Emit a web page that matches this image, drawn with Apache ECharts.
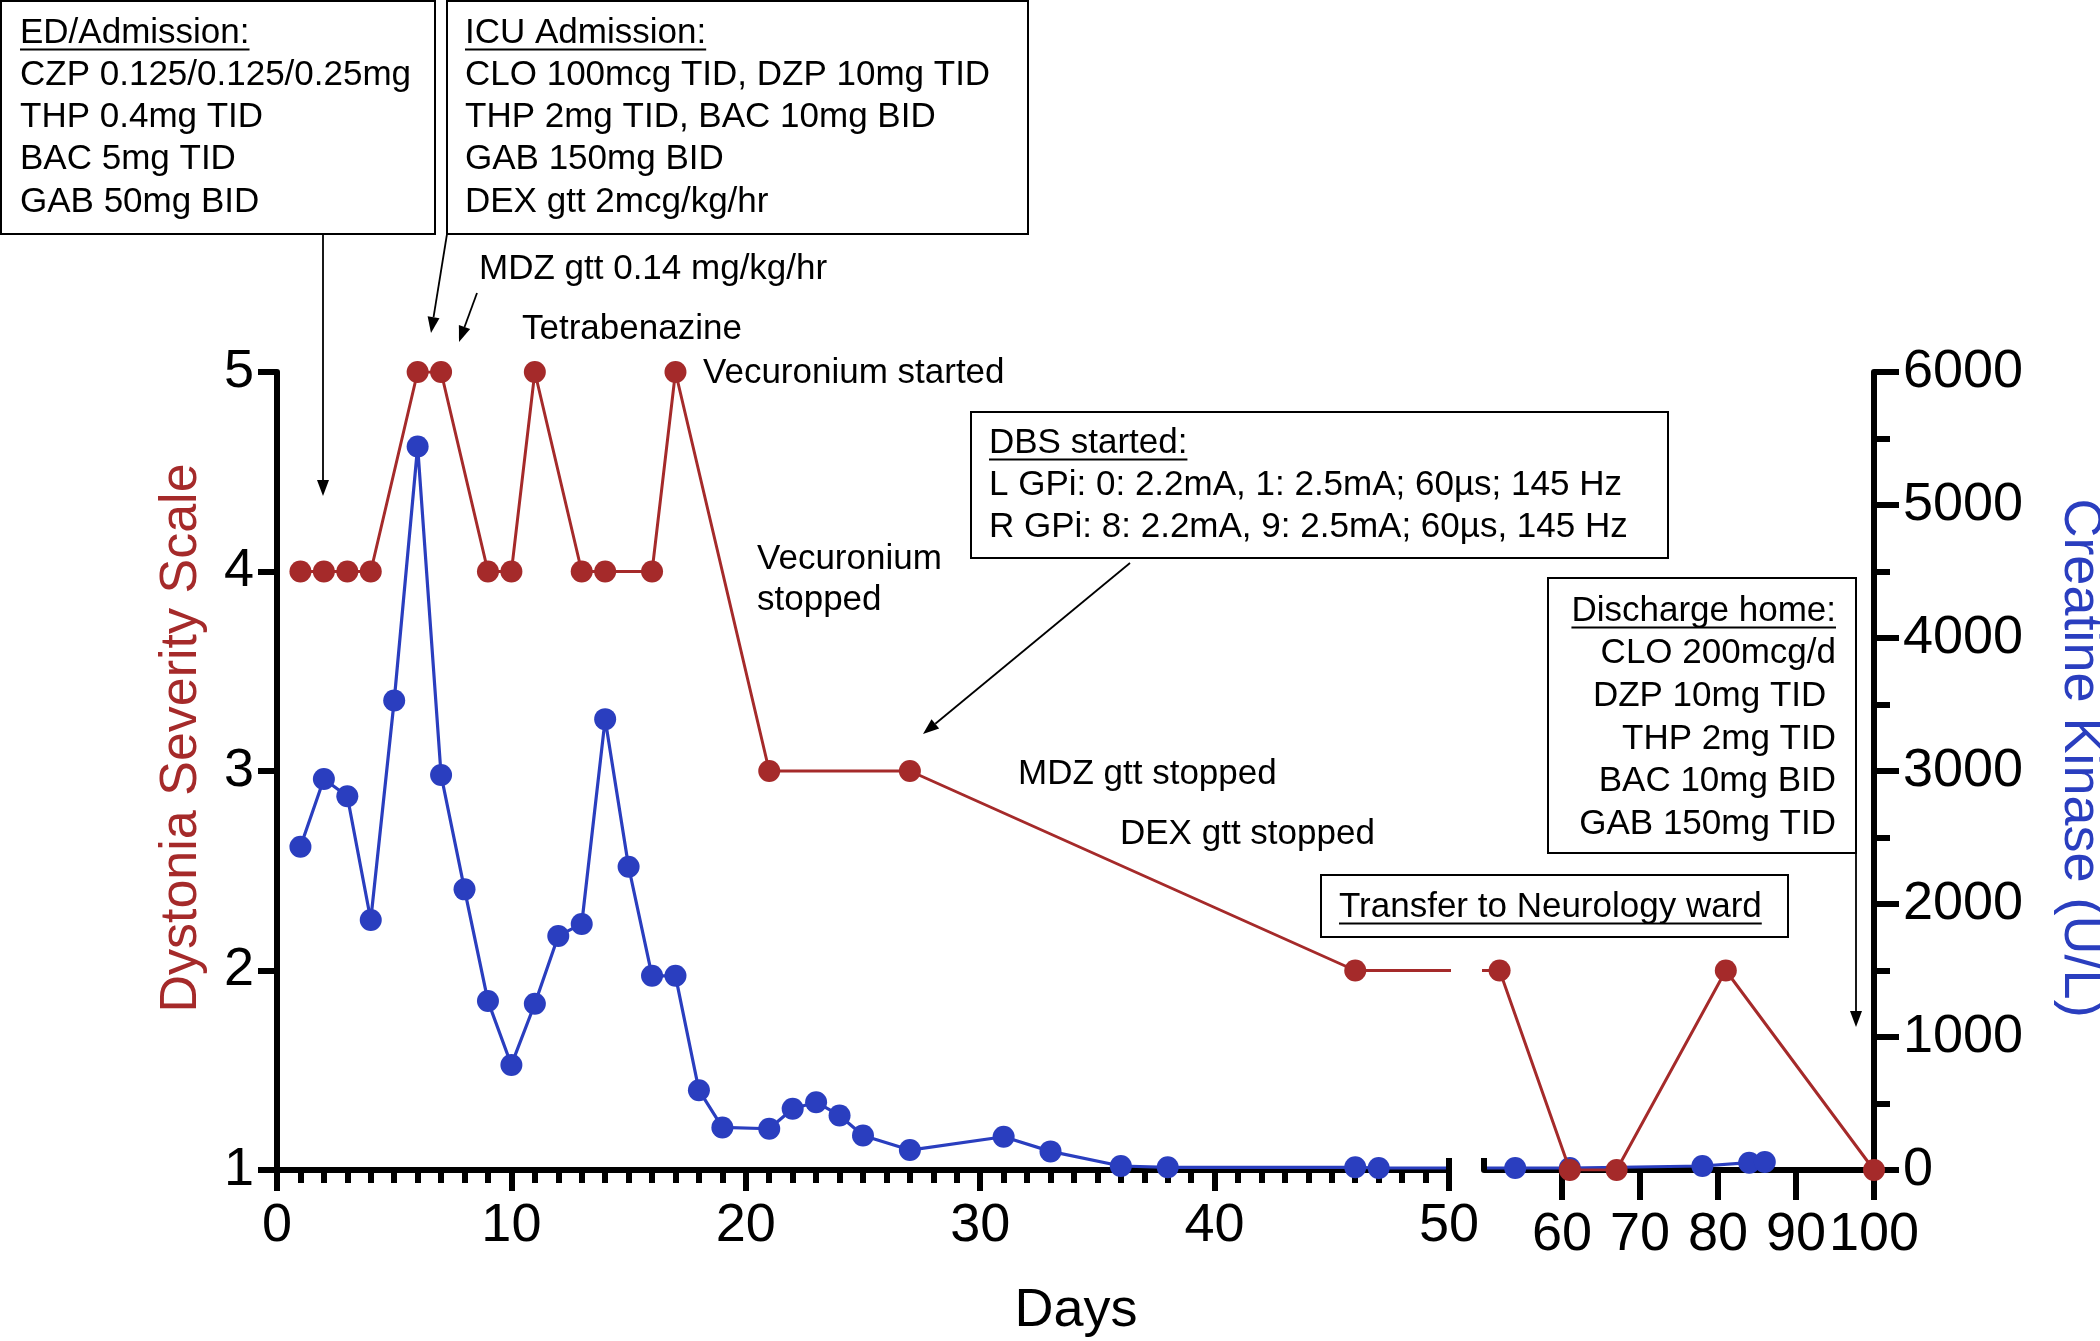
<!DOCTYPE html>
<html><head><meta charset="utf-8">
<script src="https://cdn.jsdelivr.net/npm/echarts@6/dist/echarts.min.js"></script>
<style>html,body{margin:0;padding:0;background:#fff}#c{width:2100px;height:1341px}</style>
</head><body><div id="c"></div>
<script>
// ---------------- data ----------------
const dssDays   = [1, 2, 3, 4, 6, 7, 9, 10, 11, 13, 14, 16, 17, 21, 27, 46, 52, 61, 67, 81, 100];
const dssValues = [4, 4, 4, 4, 5, 5, 4, 4, 5, 4, 4, 4, 5, 3, 3, 2, 2, 1, 1, 2, 1];
const ckDays    = [1, 2, 3, 4, 5, 6, 7, 8, 9, 10, 11, 12, 13, 14, 15, 16, 17, 18, 19, 21, 22, 23, 24, 25, 27, 31, 33, 36, 38, 46, 47, 54, 61, 78, 84, 86];
const ckValues  = [2430, 2940, 2810, 1880, 3530, 5440, 2970, 2110, 1270, 790, 1250, 1760, 1850, 3390, 2280, 1460, 1460, 600, 320, 310, 460, 510, 410, 260, 150, 250, 140, 30, 20, 20, 15, 15, 15, 30, 55, 60];
const xTicksFirst  = [0, 10, 20, 30, 40, 50];
const xTicksSecond = [50, 60, 70, 80, 90, 100];
const dssTicks = [1, 2, 3, 4, 5];
const ckTicks  = [0, 1000, 2000, 3000, 4000, 5000, 6000];

const FONT = "'Liberation Sans', Arial, Helvetica, sans-serif";
const RED = '#a52a2a';
const BLUE = '#2a3ebf';

const dssData = dssDays.map((d, i) => [d, dssValues[i]]);
const ckData = ckDays.map((d, i) => [d, ckValues[i]]);

const chart = echarts.init(document.getElementById('c'), null, {renderer: 'canvas'});

const plain = (v) => String(v);
const tickLabel = {fontSize: 54, color: '#000', fontFamily: FONT, formatter: plain};
const blackLine = (w) => ({color: '#000', width: w});

function xAxisDef(grid, ticks, tickLen, margin, minor) {
  return {
    gridIndex: grid, type: 'value',
    min: ticks[0], max: ticks[ticks.length - 1], interval: ticks[1] - ticks[0],
    axisLine: {show: true, onZero: false, lineStyle: blackLine(6)},
    axisTick: {show: true, inside: false, length: tickLen, lineStyle: blackLine(6)},
    minorTick: {show: minor, splitNumber: 10, length: 13, lineStyle: blackLine(6)},
    axisLabel: Object.assign({}, tickLabel, {margin: margin, showMinLabel: grid === 0, showMaxLabel: true}),
    splitLine: {show: false}, minorSplitLine: {show: false}
  };
}

const option = {
  animation: false,
  backgroundColor: '#fff',
  grid: [
    {left: 277, top: 372, width: 1172, height: 798},
    {left: 1484, top: 372, width: 390, height: 798}
  ],
  xAxis: [
    xAxisDef(0, xTicksFirst, 21, 29, true),
    xAxisDef(1, xTicksSecond, 30, 38, false)
  ],
  yAxis: [
    { gridIndex: 0, type: 'value', position: 'left',
      min: dssTicks[0], max: dssTicks[dssTicks.length - 1], interval: 1,
      axisLine: {show: true, onZero: false, lineStyle: blackLine(6)},
      axisTick: {show: true, inside: false, length: 19, lineStyle: blackLine(6)},
      axisLabel: Object.assign({}, tickLabel, {margin: 23}),
      splitLine: {show: false} },
    { gridIndex: 0, type: 'value', show: false,
      min: ckTicks[0], max: ckTicks[ckTicks.length - 1], splitLine: {show: false} },
    { gridIndex: 1, type: 'value', show: false,
      min: dssTicks[0], max: dssTicks[dssTicks.length - 1], splitLine: {show: false} },
    { gridIndex: 1, type: 'value', position: 'right',
      min: ckTicks[0], max: ckTicks[ckTicks.length - 1], interval: 1000,
      axisLine: {show: true, onZero: false, lineStyle: blackLine(6)},
      axisTick: {show: true, inside: false, length: 25, lineStyle: blackLine(6)},
      minorTick: {show: true, splitNumber: 2, length: 16, lineStyle: blackLine(6)},
      axisLabel: Object.assign({}, tickLabel, {margin: 29}),
      splitLine: {show: false}, minorSplitLine: {show: false} }
  ],
  series: [
    {type: 'line', name: 'CK', xAxisIndex: 0, yAxisIndex: 1, data: ckData, clip: true,
     symbol: 'circle', symbolSize: 22, showAllSymbol: true, z: 2,
     itemStyle: {color: BLUE}, lineStyle: {color: BLUE, width: 3.2}},
    {type: 'line', name: 'CK', xAxisIndex: 1, yAxisIndex: 3, data: ckData, clip: true,
     symbol: 'circle', symbolSize: 22, showAllSymbol: true, z: 2,
     itemStyle: {color: BLUE}, lineStyle: {color: BLUE, width: 3.2}},
    {type: 'line', name: 'DSS', xAxisIndex: 0, yAxisIndex: 0, data: dssData, clip: true,
     symbol: 'circle', symbolSize: 22, showAllSymbol: true, z: 3,
     itemStyle: {color: RED}, lineStyle: {color: RED, width: 3}},
    {type: 'line', name: 'DSS', xAxisIndex: 1, yAxisIndex: 2, data: dssData, clip: true,
     symbol: 'circle', symbolSize: 22, showAllSymbol: true, z: 3,
     itemStyle: {color: RED}, lineStyle: {color: RED, width: 3}}
  ]
};
chart.setOption(option);

// ---------------- annotations ----------------
const mctx = document.createElement('canvas').getContext('2d');
function tw(s, size) { mctx.font = size + 'px ' + FONT; return mctx.measureText(s).width; }

const G = [];
function text(s, x, y, o) {
  o = o || {};
  const size = o.size || 35;
  G.push({type: 'text', silent: true, x: x, y: y, rotation: o.rot || 0, z: 10,
    style: {text: s, x: 0, y: 0, font: size + 'px ' + FONT, fill: o.color || '#000',
      align: o.align || 'left', verticalAlign: 'middle',
      textAlign: o.align || 'left', textVerticalAlign: 'middle'}});
  if (o.underline) {
    const w = tw(s, size);
    const x0 = (o.align === 'right') ? x - w : x;
    const uy = y + 0.358 * size + 4;
    line(x0, uy, x0 + w, uy, 2);
  }
}
function line(x1, y1, x2, y2, w) {
  G.push({type: 'line', silent: true, z: 10, shape: {x1, y1, x2, y2},
    style: {stroke: '#000', lineWidth: w || 2}});
}
function box(x, y, w, h) {
  G.push({type: 'rect', silent: true, z: 9, shape: {x, y, width: w, height: h},
    style: {fill: '#fff', stroke: '#000', lineWidth: 2}});
}
function arrow(x1, y1, x2, y2) {
  const dx = x2 - x1, dy = y2 - y1, L = Math.hypot(dx, dy);
  const ux = dx / L, uy = dy / L, nx = -uy, ny = ux;
  const hl = 16, hw = 6;
  const bx = x2 - ux * hl, by = y2 - uy * hl;
  line(x1, y1, bx, by, 1.8);
  G.push({type: 'polygon', silent: true, z: 10,
    shape: {points: [[x2, y2], [bx + nx * hw, by + ny * hw], [bx - nx * hw, by - ny * hw]]},
    style: {fill: '#000'}});
}

// ED / Admission box
box(1, 1, 434, 233);
text('ED/Admission:', 20, 33, {underline: true});
text('CZP 0.125/0.125/0.25mg', 20, 75);
text('THP 0.4mg TID', 20, 117);
text('BAC 5mg TID', 20, 159);
text('GAB 50mg BID', 20, 202);
// ICU Admission box
box(447, 1, 581, 233);
text('ICU Admission:', 465, 33, {underline: true});
text('CLO 100mcg TID, DZP 10mg TID', 465, 75);
text('THP 2mg TID, BAC 10mg BID', 465, 117);
text('GAB 150mg BID', 465, 159);
text('DEX gtt 2mcg/kg/hr', 465, 202);

arrow(323, 234, 323, 496);
arrow(447, 234, 431, 333);
arrow(477, 293, 459, 342);

text('MDZ gtt 0.14 mg/kg/hr', 479, 269);
text('Tetrabenazine', 522, 329);
text('Vecuronium started', 703, 373);
text('Vecuronium', 757, 559);
text('stopped', 757, 600);

// DBS box
box(971, 412, 697, 146);
text('DBS started:', 989, 443, {underline: true});
text('L GPi: 0: 2.2mA, 1: 2.5mA; 60\u00b5s; 145 Hz', 989, 485);
text('R GPi: 8: 2.2mA, 9: 2.5mA; 60\u00b5s, 145 Hz', 989, 527);
arrow(1130, 563, 923, 734);

text('MDZ gtt stopped', 1018, 774);
text('DEX gtt stopped', 1120, 834);

// Discharge box
box(1548, 578, 308, 275);
text('Discharge home:', 1836, 611, {align: 'right', underline: true});
text('CLO 200mcg/d', 1836, 653, {align: 'right'});
text('DZP 10mg TID ', 1836, 696, {align: 'right'});
text('THP 2mg TID', 1836, 739, {align: 'right'});
text('BAC 10mg BID', 1836, 781, {align: 'right'});
text('GAB 150mg TID', 1836, 824, {align: 'right'});
arrow(1856, 853, 1856, 1027);

// Transfer box
box(1321, 875, 467, 62);
text('Transfer to Neurology ward', 1339, 907, {underline: true});

// axis titles
text('Dystonia Severity Scale', 182, 738, {size: 52, color: RED, align: 'center', rot: Math.PI / 2});
text('Creatine Kinase (U/L)', 2080, 758, {size: 54, color: BLUE, align: 'center', rot: -Math.PI / 2});
text('Days', 1076, 1311, {size: 54, align: 'center'});

// axis-break end caps (computed from the axes)
const yBase = chart.convertToPixel({yAxisIndex: 0}, dssTicks[0]);
const xEnd1 = chart.convertToPixel({xAxisIndex: 0}, xTicksFirst[xTicksFirst.length - 1]);
const xStart2 = chart.convertToPixel({xAxisIndex: 1}, xTicksSecond[0]);
line(xEnd1, yBase - 12, xEnd1, yBase, 6);
line(xStart2, yBase - 12, xStart2, yBase, 6);

chart.setOption({graphic: {elements: G}});
</script>
</body></html>
